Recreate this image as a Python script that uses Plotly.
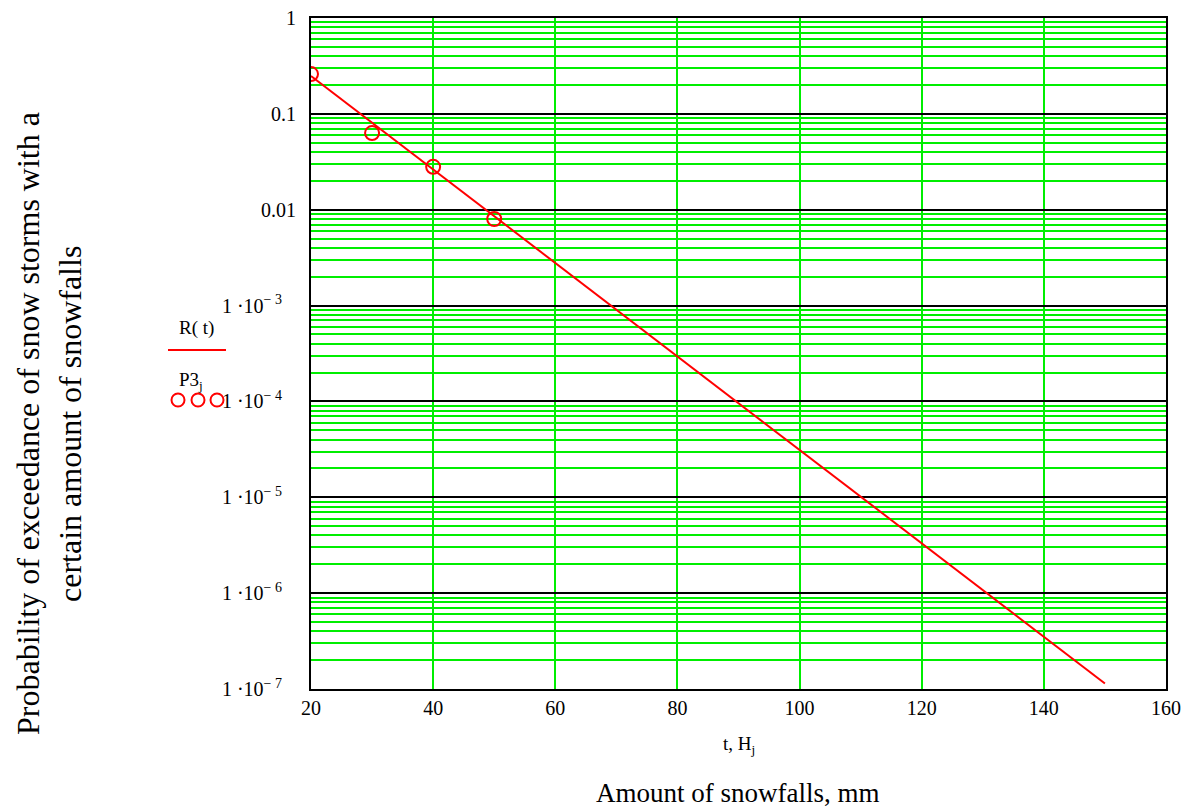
import plotly.graph_objects as go

# Curve R(t)
t_vals = [20, 40, 60, 80, 100, 120, 140, 150]
R_vals = [0.248, 0.0263, 2.79e-3, 2.95e-4, 3.13e-5, 3.31e-6, 3.51e-7, 1.14e-7]

# Observed points P3_j at H_j
H_vals = [20, 30, 40, 50]
P3_vals = [0.26, 0.063, 0.028, 0.008]

# Tick labels
y_tickvals = [1, 0.1, 0.01, 1e-3, 1e-4, 1e-5, 1e-6, 1e-7]
SP = "\u2002\u2009"
y_ticktext = ["1", "0.1", "0.01",
              "1 ·10<sup>− 3</sup>" + SP, "1 ·10<sup>− 4</sup>" + SP,
              "1 ·10<sup>− 5</sup>" + SP, "1 ·10<sup>− 6</sup>" + SP,
              "1 ·10<sup>− 7</sup>" + SP]
x_tickvals = [20, 40, 60, 80, 100, 120, 140, 160]

minor_vals = [k * 10.0 ** e for e in range(-7, 0) for k in range(2, 10)]

W, H = 1188, 810
plot_l, plot_r, plot_t, plot_b = 311, 1166, 18, 689  # pixel coords of plot area
L, T, R, B = plot_l, plot_t, W - plot_r, H - plot_b
pw, ph = plot_r - plot_l, plot_b - plot_t


def px(x):
    return (x - plot_l) / pw


def py(y):
    return (plot_b - y) / ph


font_family = "Liberation Serif, Times New Roman, serif"

fig = go.Figure()
fig.add_trace(go.Scatter(x=t_vals, y=R_vals, mode="lines",
                         line=dict(color="#ff0000", width=2), showlegend=False,
                         hoverinfo="skip"))
fig.add_trace(go.Scatter(x=H_vals, y=P3_vals, mode="markers",
                         marker=dict(symbol="circle-open", size=14, color="#ff0000",
                                     line=dict(width=2, color="#ff0000")),
                         showlegend=False))

fig.update_xaxes(range=[20, 160], tickmode="array", tickvals=x_tickvals,
                 showgrid=True, gridcolor="#00ee00", gridwidth=2,
                 showline=True, linecolor="black", linewidth=2, mirror=True,
                 ticks="", zeroline=False, automargin=False,
                 tickfont=dict(family=font_family, size=20, color="black"))
fig.update_yaxes(type="log", range=[-7, 0], tickmode="array",
                 tickvals=y_tickvals, ticktext=y_ticktext,
                 showgrid=True, gridcolor="black", gridwidth=2,
                 minor=dict(tickmode="array", tickvals=minor_vals, showgrid=True,
                            gridcolor="#00ee00", gridwidth=2, ticks=""),
                 showline=True, linecolor="black", linewidth=2, mirror=True,
                 ticks="", zeroline=False, automargin=False, ticklabelstandoff=9,
                 tickfont=dict(family=font_family, size=20, color="black"))


def ann(text, x, y, size, angle=0):
    return dict(text=text, x=px(x), y=py(y), xref="paper", yref="paper",
                xanchor="center", yanchor="middle", textangle=angle,
                showarrow=False, font=dict(family=font_family, size=size, color="black"))


annotations = [
    ann("t, H<sub>j</sub>", 739, 745, 19),
    ann("Amount of snowfalls, mm", 738, 793, 27),
    ann("Probability of exceedance of snow storms with a", 28, 424, 32, -90),
    ann("certain amount of snowfalls", 70, 424, 32, -90),
    ann("R( t)", 196, 328, 19),
    ann("P3<sub>j</sub>", 191, 381, 19),
]

shapes = [
    dict(type="line", xref="paper", yref="paper", x0=px(168), x1=px(226),
         y0=py(350), y1=py(350), line=dict(color="#ff0000", width=2)),
]
for cx in [178, 198, 217]:
    shapes.append(dict(type="circle", xref="paper", yref="paper",
                       x0=px(cx - 6.5), x1=px(cx + 6.5), y0=py(406.5), y1=py(393.5),
                       line=dict(color="#ff0000", width=2)))

fig.update_layout(width=W, height=H, margin=dict(l=L, r=R, t=T, b=B),
                  plot_bgcolor="white", paper_bgcolor="white",
                  annotations=annotations, shapes=shapes, showlegend=False)

fig.write_html("out.html", config={"displayModeBar": False},
               post_script="document.body.style.margin='0';document.body.style.overflow='hidden';")
